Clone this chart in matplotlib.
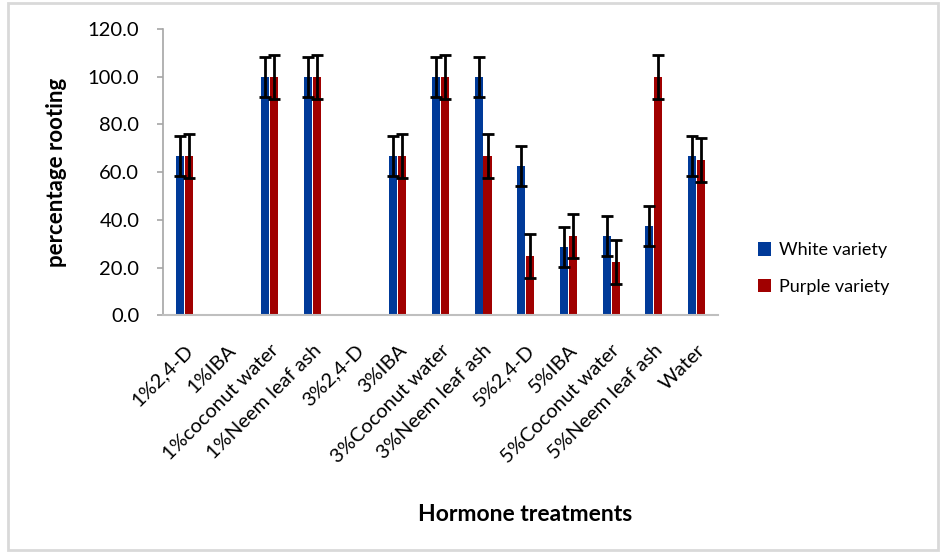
import matplotlib
matplotlib.use("Agg")
import matplotlib.pyplot as plt
import numpy as np
from matplotlib.patches import Rectangle

plt.rcParams['font.family'] = ['Lato', 'DejaVu Sans']

treatments = ["1%2,4-D", "1%IBA", "1%coconut water", "1%Neem leaf ash",
              "3%2,4-D", "3%IBA", "3%Coconut water", "3%Neem leaf ash",
              "5%2,4-D", "5%IBA", "5%Coconut water", "5%Neem leaf ash", "Water"]
white = [66.7, 0, 100, 100, 0, 66.7, 100, 100, 62.5, 28.6, 33.3, 37.5, 66.7]
purple = [66.7, 0, 100, 100, 0, 66.7, 100, 66.7, 25.0, 33.3, 22.2, 100, 65.0]
# error bars (only drawn where there is a bar)
white_err = [8.4, 0, 8.4, 8.4, 0, 8.4, 8.4, 8.4, 8.4, 8.4, 8.4, 8.4, 8.4]
purple_err = [9.2, 0, 9.2, 9.2, 0, 9.2, 9.2, 9.2, 9.2, 9.2, 9.2, 9.2, 9.2]

fig = plt.figure(figsize=(9.47, 5.53), dpi=100)
ax = fig.add_axes([0.172, 0.430, 0.586, 0.5176])

x = np.arange(len(treatments))
w = 0.19
off = 0.105
ax.bar(x - off, white, w, color="#003A99", label="White variety", zorder=2)
ax.bar(x + off, purple, w, color="#A00000", label="Purple variety", zorder=2)

ekw = dict(fmt="none", ecolor="black", elinewidth=2, capsize=4.5, capthick=2, zorder=3)
m = np.array(white) > 0
ax.errorbar((x - off)[m], np.array(white)[m], yerr=np.array(white_err)[m], **ekw)
m = np.array(purple) > 0
ax.errorbar((x + off)[m], np.array(purple)[m], yerr=np.array(purple_err)[m], **ekw)

ax.set_xlim(-0.5, len(treatments) - 0.5)
ax.set_ylim(0, 120)
ax.set_yticks(np.arange(0, 121, 20))
ax.set_yticklabels([f"{v:.1f}" for v in np.arange(0, 121, 20)], fontsize=14.5)
ax.set_xticks(x)
ax.set_xticklabels(treatments, rotation=45, ha="right", va="top",
                   rotation_mode="anchor", fontsize=14.5)
ax.tick_params(axis="x", length=0, pad=19)
ax.tick_params(axis="y", length=4, color="#A6A6A6", pad=13, width=1.2)

for s in ["top", "right"]:
    ax.spines[s].set_visible(False)
ax.spines["left"].set_color("#A6A6A6")
ax.spines["left"].set_linewidth(1.2)
ax.spines["bottom"].set_color("#BFBFBF")
ax.spines["bottom"].set_linewidth(1.5)

ax.set_ylabel("percentage rooting", fontsize=16, fontweight="bold")
ax.yaxis.set_label_coords(-0.172, 0.5)
fig.text(0.555, 0.069, "Hormone treatments", fontsize=16.5, fontweight="bold",
         ha="center", va="center")

fig.legend(loc="center left", bbox_to_anchor=(0.783, 0.514), frameon=False,
           fontsize=13, handlelength=0.75, handleheight=0.75, labelspacing=1.15,
           handletextpad=0.45)

fig.patches.append(Rectangle((0.008, 0.006), 0.983, 0.989, transform=fig.transFigure,
                             fill=False, edgecolor="#D9D9D9", linewidth=2))

fig.savefig("out.png", dpi=100)
